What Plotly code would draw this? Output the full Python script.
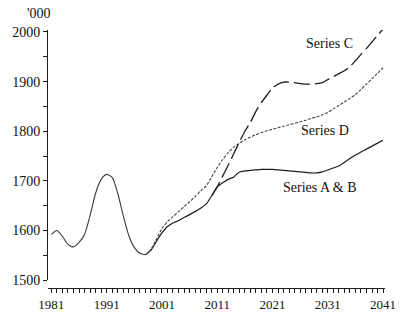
import plotly.graph_objects as go

# Population ('000), historical and projected
hist_years = list(range(1981, 1999))
hist_vals = [1592, 1600, 1588, 1572, 1567, 1576, 1592, 1630, 1675, 1703,
             1713, 1707, 1675, 1630, 1590, 1566, 1554, 1551]

proj_years = list(range(1998, 2042))
series_ab = [1551, 1560, 1578, 1595, 1608, 1615, 1620, 1626, 1632, 1638,
             1645, 1653, 1670, 1688, 1696, 1703, 1708, 1718, 1720, 1721,
             1722, 1723, 1723, 1723, 1722, 1721, 1720, 1719, 1718, 1717,
             1716, 1716, 1718, 1722, 1726, 1730, 1737, 1745, 1752, 1758,
             1764, 1770, 1776, 1782]
series_d = [1551, 1562, 1582, 1604, 1618, 1628, 1638, 1648, 1658, 1668,
            1680, 1690, 1708, 1727, 1743, 1757, 1768, 1776, 1783, 1788,
            1793, 1797, 1801, 1804, 1807, 1810, 1813, 1816, 1819, 1822,
            1826, 1829, 1833, 1838, 1845, 1852, 1859, 1866, 1874, 1884,
            1895, 1906, 1917, 1928]

c_years = list(range(2010, 2042))
series_c = [1670, 1688, 1710, 1732, 1755, 1778, 1800, 1818, 1840, 1858,
            1873, 1887, 1895, 1899, 1899, 1898, 1896, 1895, 1895, 1896,
            1898, 1904, 1910, 1916, 1922, 1930, 1942, 1955, 1967, 1980,
            1993, 2006]

x_ticks = [1981, 1991, 2001, 2011, 2021, 2031, 2041]
y_ticks = [1500, 1600, 1700, 1800, 1900, 2000]

series_labels = [
    ("Series C", 2031.3, 1977),
    ("Series D", 2030.5, 1802),
    ("Series A & B", 2029.6, 1687),
]

INK = "#1c1c1c"
FONT = "Liberation Serif"
SMOOTH = 0.7

fig = go.Figure()
fig.add_trace(go.Scatter(x=hist_years, y=hist_vals, mode="lines",
                         line=dict(color="#3a3a3a", width=1.1,
                                   shape="spline", smoothing=SMOOTH)))
fig.add_trace(go.Scatter(x=proj_years, y=series_ab, mode="lines",
                         line=dict(color=INK, width=1.2,
                                   shape="spline", smoothing=SMOOTH)))
fig.add_trace(go.Scatter(x=proj_years, y=series_d, mode="lines",
                         line=dict(color="#444444", width=1.1, dash="3px,1.5px",
                                   shape="spline", smoothing=SMOOTH)))
fig.add_trace(go.Scatter(x=c_years, y=series_c, mode="lines",
                         line=dict(color=INK, width=1.3, dash="16px,5px",
                                   shape="spline", smoothing=SMOOTH)))

for text, xv, yv in series_labels:
    fig.add_annotation(x=xv, y=yv, text=text, showarrow=False,
                       font=dict(family=FONT, size=14, color="#111"),
                       xanchor="center", yanchor="middle")

# unit label above the value axis
fig.add_annotation(xref="paper", yref="paper",
                   x=(34.5 - 44) / 348, y=1 + (30 - 13) / 262, text="'000",
                   showarrow=False, font=dict(family=FONT, size=14, color="#111"),
                   xanchor="center", yanchor="middle")

fig.update_layout(
    width=408, height=324,
    margin=dict(l=44, r=16, t=30, b=32),
    paper_bgcolor="white", plot_bgcolor="white",
    showlegend=False,
    font=dict(family=FONT, size=14, color="#111"),
    xaxis=dict(
        range=[1980.39, 2041.35], anchor="free", position=0,
        tickmode="array", tickvals=x_ticks, ticktext=[str(v) for v in x_ticks],
        ticks="outside", ticklen=4, tickwidth=1, tickcolor=INK,
        minor=dict(tickmode="linear", tick0=1981, dtick=1, ticks="outside",
                   ticklen=4, tickwidth=1, tickcolor=INK),
        showline=True, linecolor=INK, linewidth=1,
        showgrid=False, zeroline=False,
        tickfont=dict(family=FONT, size=13, color="#111"),
    ),
    yaxis=dict(
        domain=[8 / 262, 1], range=[1500, 2004],
        tickmode="array", tickvals=y_ticks,
        ticks="outside", ticklen=4, tickwidth=1, tickcolor=INK,
        minor=dict(tickmode="linear", tick0=1500, dtick=50, ticks="outside",
                   ticklen=4, tickwidth=1, tickcolor=INK),
        showline=True, linecolor=INK, linewidth=1,
        showgrid=False, zeroline=False,
        tickfont=dict(family=FONT, size=14, color="#111"),
    ),
)

fig.write_html("out.html")
